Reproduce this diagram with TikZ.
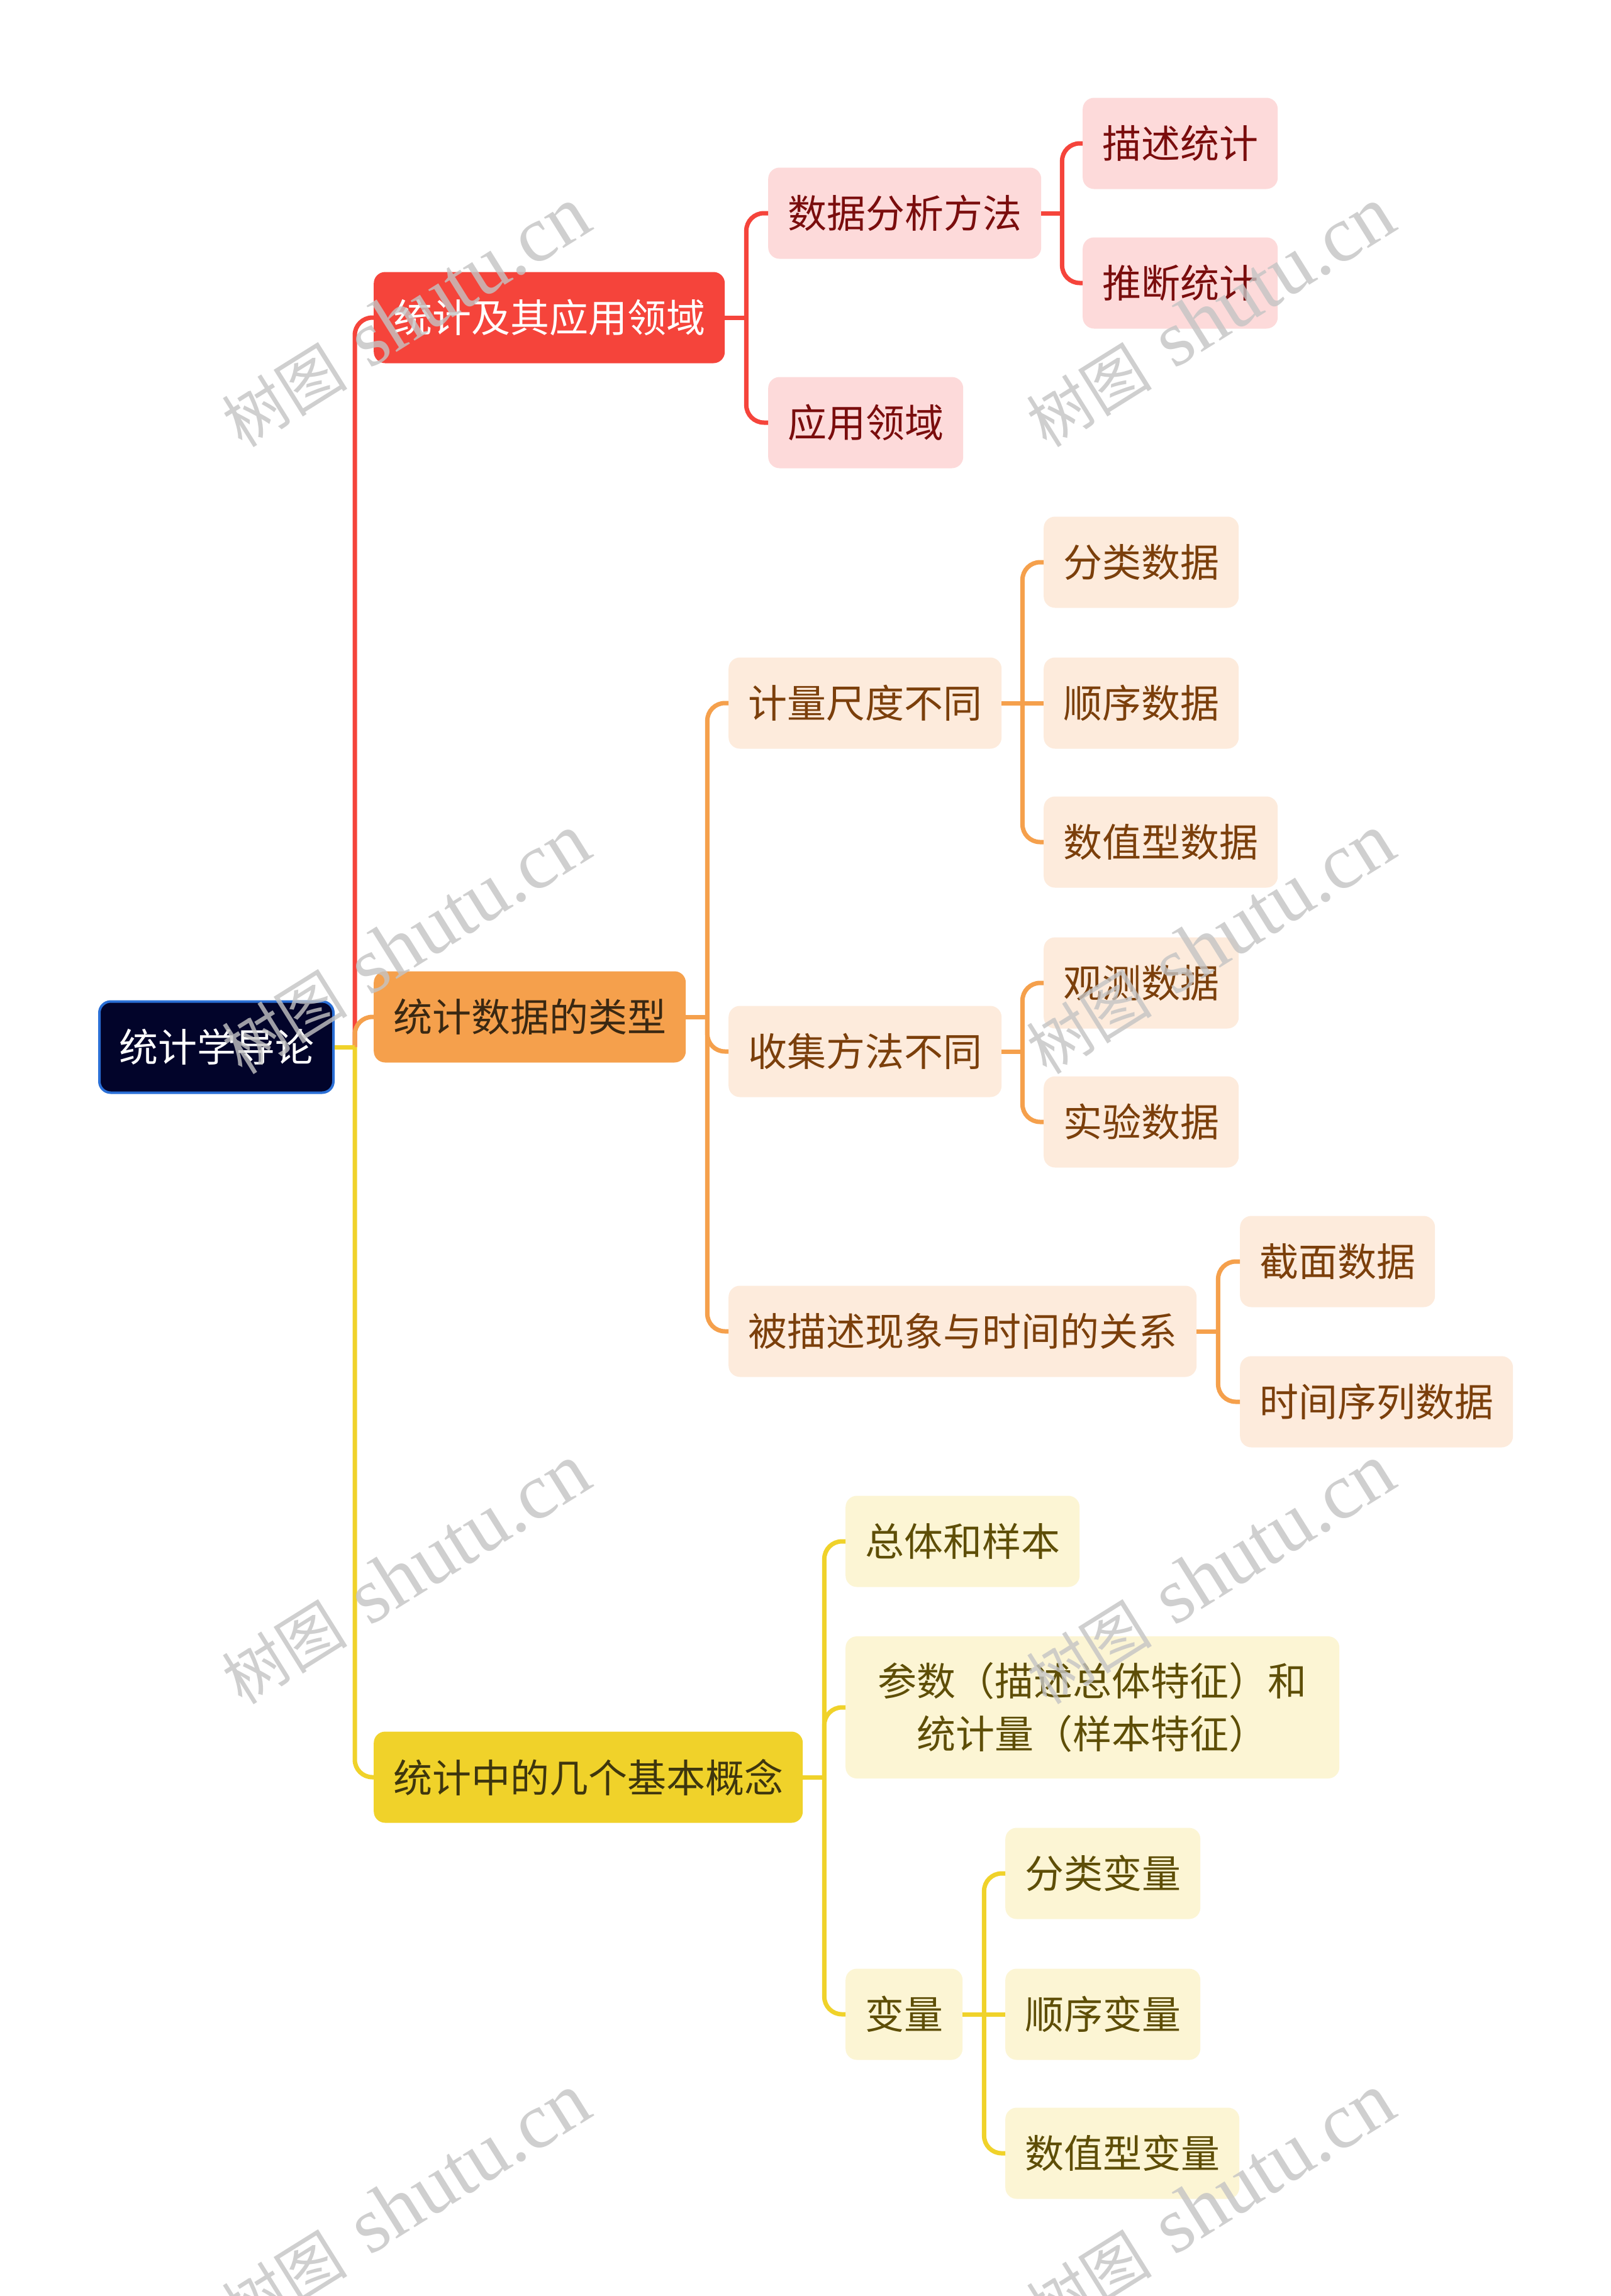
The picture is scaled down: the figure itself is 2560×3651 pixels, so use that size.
\documentclass[tikz,border=0pt]{standalone}
\usepackage{fontspec}
\usetikzlibrary{calc}
\newfontfamily\cjk{Noto Sans CJK SC}
\newfontfamily\wmserif{Liberation Serif}
\definecolor{navy}{HTML}{02042A}
\definecolor{rootblue}{HTML}{2A6FD6}
\definecolor{redmain}{HTML}{F5443B}
\definecolor{pinkfill}{HTML}{FDDADA}
\definecolor{redtext}{HTML}{7A0D0D}
\definecolor{orangemain}{HTML}{F5A04C}
\definecolor{orangetext}{HTML}{3A2812}
\definecolor{lorange}{HTML}{FDEBDC}
\definecolor{browntext}{HTML}{7B3F0B}
\definecolor{yellowmain}{HTML}{F0D22A}
\definecolor{yellowtext}{HTML}{3E360E}
\definecolor{lyellow}{HTML}{FCF5D4}
\definecolor{olivetext}{HTML}{5E4E07}
\definecolor{wmgray}{HTML}{C4C4C4}
\tikzset{
  box/.style={rounded corners=18, inner xsep=31, inner ysep=0, minimum height=145,
    anchor=west, align=center, font=\cjk\fontsize{62}{84}\selectfont},
  rootbox/.style={box, fill=navy, draw=rootblue, line width=4, text=white},
  redtop/.style={box, fill=redmain, text=white},
  redsub/.style={box, fill=pinkfill, text=redtext},
  orangetop/.style={box, fill=orangemain, text=orangetext},
  orangesub/.style={box, fill=lorange, text=browntext},
  yellowtop/.style={box, fill=yellowmain, text=yellowtext},
  yellowsub/.style={box, fill=lyellow, text=olivetext},
  conn/.style={line width=7, rounded corners=28},
  redline/.style={conn, draw=redmain},
  orangeline/.style={conn, draw=orangemain},
  yellowline/.style={conn, draw=yellowmain},
  watermark/.style={text=wmgray, opacity=0.8, rotate=32, inner sep=0, anchor=center,
    font=\fontsize{126}{126}\selectfont}
}
\begin{document}
\begin{tikzpicture}[x=1pt,y=-1pt]
\useasboundingbox (0,0) rectangle (2560,3651);
\fill[white] (0,0) rectangle (2560,3651);

% nodes
\node[rootbox] (root) at (156,1665) {统计学导论};

\node[redtop] (A) at (594,505) {统计及其应用领域};
\node[orangetop] (B) at (594,1617) {统计数据的类型};
\node[yellowtop] (C) at (594,2826) {统计中的几个基本概念};

\node[redsub] (A1) at (1221,339) {数据分析方法};
\node[redsub] (A2) at (1221,672) {应用领域};
\node[redsub] (A11) at (1721,228) {描述统计};
\node[redsub] (A12) at (1721,450) {推断统计};

\node[orangesub] (B1) at (1158,1118) {计量尺度不同};
\node[orangesub] (B2) at (1158,1672) {收集方法不同};
\node[orangesub] (B3) at (1158,2117) {被描述现象与时间的关系};
\node[orangesub] (B11) at (1659,894) {分类数据};
\node[orangesub] (B12) at (1659,1118) {顺序数据};
\node[orangesub] (B13) at (1659,1339) {数值型数据};
\node[orangesub] (B21) at (1659,1563) {观测数据};
\node[orangesub] (B22) at (1659,1784) {实验数据};
\node[orangesub] (B31) at (1971,2006) {截面数据};
\node[orangesub] (B32) at (1971,2229) {时间序列数据};

\node[yellowsub] (C1) at (1344,2451) {总体和样本};
\node[yellowsub, minimum width=785, minimum height=226] (C2) at (1344,2715) {参数（描述总体特征）和\\统计量（样本特征）};
\node[yellowsub] (C3) at (1344,3203) {变量};
\node[yellowsub] (C31) at (1598,2979) {分类变量};
\node[yellowsub] (C32) at (1598,3203) {顺序变量};
\node[yellowsub] (C33) at (1598,3424) {数值型变量};

% connectors: root -> level 1
\draw[redline] ($(root.east)+(32,0)$) |- (A.west);
\draw[orangeline] ($(root.east)+(32,0)$) |- (B.west);
\draw[yellowline] ($(root.east)+(32,0)$) |- (C.west);
\draw[yellowline] (root.east) -- ++(32,0);

% A branch
\draw[redline] (A.east) -- ++(34,0);
\draw[redline] ($(A.east)+(34,0)$) |- (A1.west);
\draw[redline] ($(A.east)+(34,0)$) |- (A2.west);
\draw[redline] (A1.east) -- ++(33,0);
\draw[redline] ($(A1.east)+(33,0)$) |- (A11.west);
\draw[redline] ($(A1.east)+(33,0)$) |- (A12.west);

% B branch
\draw[orangeline] (B.east) -- ++(34,0);
\draw[orangeline] ($(B.east)+(34,0)$) |- (B1.west);
\draw[orangeline] ($(B.east)+(34,0)$) |- (B2.west);
\draw[orangeline] ($(B.east)+(34,0)$) |- (B3.west);
\draw[orangeline] (B1.east) -- ++(33,0);
\draw[orangeline] ($(B1.east)+(33,0)$) |- (B11.west);
\draw[orangeline] ($(B1.east)+(33,0)$) -- (B12.west);
\draw[orangeline] ($(B1.east)+(33,0)$) |- (B13.west);
\draw[orangeline] (B2.east) -- ++(33,0);
\draw[orangeline] ($(B2.east)+(33,0)$) |- (B21.west);
\draw[orangeline] ($(B2.east)+(33,0)$) |- (B22.west);
\draw[orangeline] (B3.east) -- ++(34,0);
\draw[orangeline] ($(B3.east)+(34,0)$) |- (B31.west);
\draw[orangeline] ($(B3.east)+(34,0)$) |- (B32.west);

% C branch
\draw[yellowline] (C.east) -- ++(34,0);
\draw[yellowline] ($(C.east)+(34,0)$) |- (C1.west);
\draw[yellowline] ($(C.east)+(34,0)$) |- (C2.west);
\draw[yellowline] ($(C.east)+(34,0)$) |- (C3.west);
\draw[yellowline] (C3.east) -- ++(34,0);
\draw[yellowline] ($(C3.east)+(34,0)$) |- (C31.west);
\draw[yellowline] ($(C3.east)+(34,0)$) -- (C32.west);
\draw[yellowline] ($(C3.east)+(34,0)$) |- (C33.west);

% watermarks
\foreach \wx/\wy [count=\i] in {645/505, 1924/505, 645/1502, 1924/1502, 645/2504, 1924/2504, 645/3505, 1924/3505}{
  \node[watermark] (wm\i) at (\wx,\wy) {{\cjk\fontsize{100}{100}\selectfont 树图} {\wmserif shutu.cn}};
}
\end{tikzpicture}
\end{document}
